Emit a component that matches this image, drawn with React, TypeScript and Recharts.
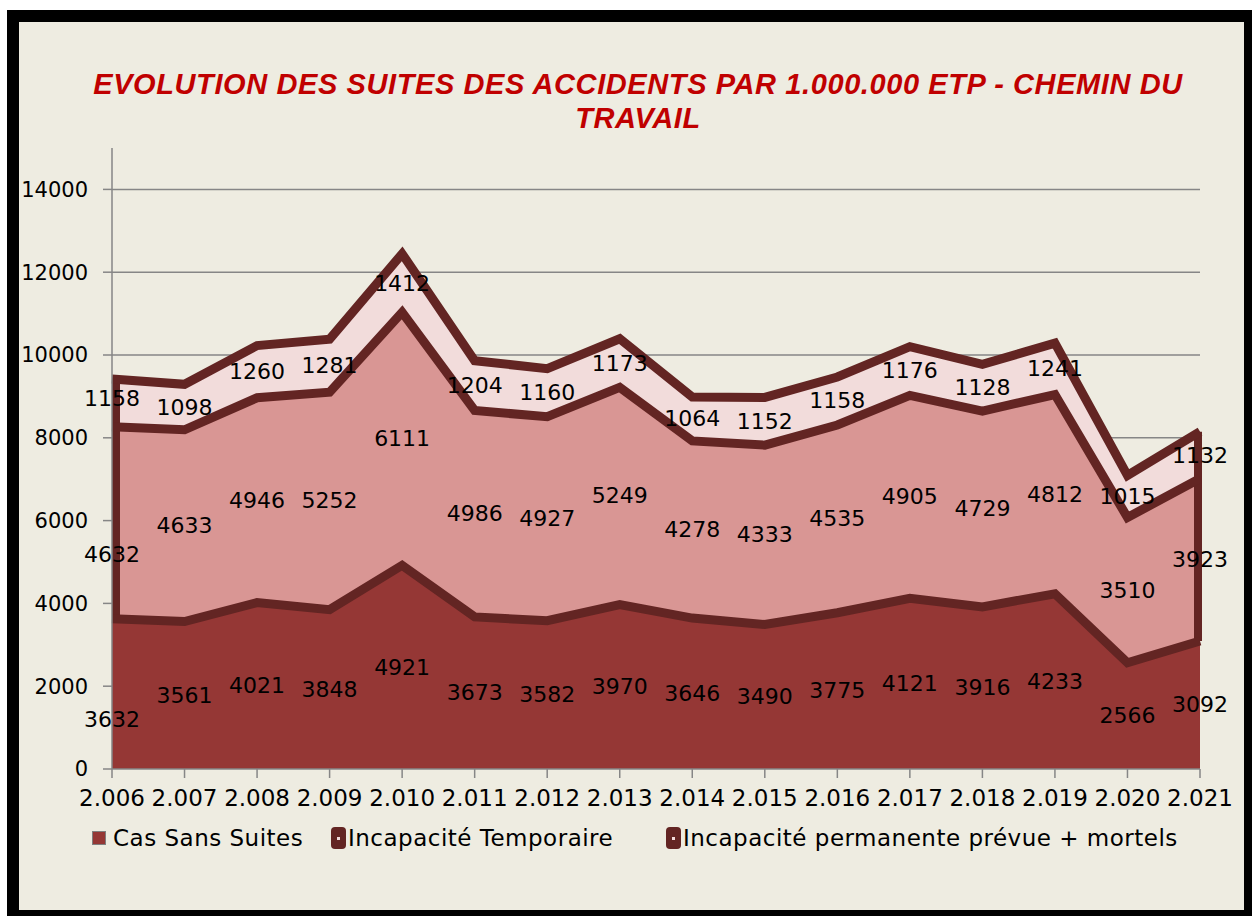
import { ComposedChart, Area, Line, XAxis, YAxis, CartesianGrid, LabelList, ReferenceLine } from 'recharts'

const years = ['2.006', '2.007', '2.008', '2.009', '2.010', '2.011', '2.012', '2.013', '2.014', '2.015', '2.016', '2.017', '2.018', '2.019', '2.020', '2.021']
const casSansSuites = [3632, 3561, 4021, 3848, 4921, 3673, 3582, 3970, 3646, 3490, 3775, 4121, 3916, 4233, 2566, 3092]
const incapTemporaire = [4632, 4633, 4946, 5252, 6111, 4986, 4927, 5249, 4278, 4333, 4535, 4905, 4729, 4812, 3510, 3923]
const incapPermanente = [1158, 1098, 1260, 1281, 1412, 1204, 1160, 1173, 1064, 1152, 1158, 1176, 1128, 1241, 1015, 1132]
const yTicks = [0, 2000, 4000, 6000, 8000, 10000, 12000, 14000]
const yMax = 15000

const data = years.map((year, i) => {
  const cas = casSansSuites[i]
  const temp = incapTemporaire[i]
  const perm = incapPermanente[i]
  return {
    year,
    cas,
    temp,
    perm,
    casTop: cas,
    tempTop: cas + temp,
    permTop: cas + temp + perm,
    casMid: cas / 2,
    tempMid: cas + temp / 2,
    permMid: cas + temp + perm / 2,
  }
})

const first = data[0]
const last = data[data.length - 1]

const EDGE = '#632523'
const GRID = '#868686'
const FONT = '"DejaVu Sans", Verdana, sans-serif'

// grid rows only at the labelled ticks (none at the top of the axis)
const gridRows = (props: any) => {
  const scale = props?.yAxis?.scale
  const rows = yTicks.filter((t) => t > 0)
  if (typeof scale === 'function') return rows.map((t) => scale(t))
  const off = props?.offset || {}
  return rows.map((t) => off.top + off.height * (1 - t / yMax))
}

// side borders of the stacked band, nudged inside the plot like Excel does
const edgeShape = (dx: number) => (p: any) => {
  if (p.x1 == null) return <g />
  return <line x1={p.x1 + dx} x2={p.x2 + dx} y1={p.y1} y2={p.y2} stroke={EDGE} strokeWidth={8} />
}

const midLabel = (shiftFirst: number) => (props: any) => {
  const vb = props.viewBox || {}
  const x = vb.x ?? props.x
  const y = (vb.y ?? props.y) + (props.index === 0 ? shiftFirst : 0)
  return (
    <text x={x} y={y} textAnchor="middle" dominantBaseline="central" fontSize={22} fontFamily={FONT} fill="#000">
      {props.value}
    </text>
  )
}

function LegendItem({ left, label, kind }: { left: number; label: string; kind: 'square' | 'outlined' }) {
  return (
    <div style={{ position: 'absolute', left, top: 823, height: 30, display: 'flex', alignItems: 'center', fontFamily: FONT, fontSize: 23, letterSpacing: 0.5, color: '#000', whiteSpace: 'nowrap' }}>
      {kind === 'square' ? (
        <span style={{ width: 12, height: 12, background: '#953735', border: '1px solid #7f7f7f', marginRight: 7 }} />
      ) : (
        <span style={{ width: 15, height: 22, background: EDGE, borderRadius: 4, marginRight: 2, display: 'flex', alignItems: 'center', justifyContent: 'center' }}>
          <span style={{ width: 3, height: 3, background: '#F2DCDB' }} />
        </span>
      )}
      {label}
    </div>
  )
}

export default function App() {
  return (
    <div style={{ position: 'fixed', left: 0, top: 0, width: 1252, height: 916, overflow: 'hidden', background: '#fff' }}>
      <div style={{ position: 'absolute', left: 7, top: 10, width: 1249, height: 912, background: '#EEECE1', boxSizing: 'border-box' }} />
      <div style={{ position: 'absolute', left: 0, top: 67, width: 1276, textAlign: 'center', color: '#C00000', fontFamily: '"Liberation Sans", Arial, sans-serif', fontWeight: 'bold', fontStyle: 'italic', fontSize: 29, letterSpacing: 0.6, lineHeight: '34px' }}>
        EVOLUTION DES SUITES DES ACCIDENTS PAR 1.000.000 ETP - CHEMIN DU
        <br />
        TRAVAIL
      </div>
      <div style={{ position: 'absolute', left: 0, top: 0 }}>
        <ComposedChart width={1252} height={916} data={data} margin={{ top: 148, right: 52, bottom: 97, left: 12 }}>
          <CartesianGrid vertical={false} stroke={GRID} strokeWidth={1.5} horizontalCoordinatesGenerator={gridRows} />
          <XAxis
            dataKey="year"
            height={50}
            tickSize={9}
            tickMargin={12}
            stroke={GRID}
            strokeWidth={1.5}
            tick={{ fontSize: 23, fill: '#000', fontFamily: FONT }}
            interval={0}
          />
          <YAxis
            width={100}
            domain={[0, yMax]}
            ticks={yTicks}
            tickSize={9}
            tickMargin={15}
            stroke={GRID}
            strokeWidth={1.5}
            tick={{ fontSize: 21, fill: '#000', fontFamily: FONT }}
          />
          <Area type="linear" dataKey="cas" name="Cas Sans Suites" stackId="1" fill="#953735" fillOpacity={1} stroke="none" isAnimationActive={false} />
          <Area type="linear" dataKey="temp" name="Incapacité Temporaire" stackId="1" fill="#D99694" fillOpacity={1} stroke="none" isAnimationActive={false} />
          <Area type="linear" dataKey="perm" name="Incapacité permanente prévue + mortels" stackId="1" fill="#F2DCDB" fillOpacity={1} stroke="none" isAnimationActive={false} />
          <ReferenceLine segment={[{ x: first.year, y: first.casTop }, { x: first.year, y: first.permTop }]} shape={edgeShape(4)} />
          <ReferenceLine segment={[{ x: last.year, y: last.casTop }, { x: last.year, y: last.permTop }]} shape={edgeShape(-2)} />
          <Line type="linear" dataKey="casTop" stroke={EDGE} strokeWidth={9} dot={false} activeDot={false} isAnimationActive={false} />
          <Line type="linear" dataKey="tempTop" stroke={EDGE} strokeWidth={9} dot={false} activeDot={false} isAnimationActive={false} />
          <Line type="linear" dataKey="permTop" stroke={EDGE} strokeWidth={9} dot={false} activeDot={false} isAnimationActive={false} />
          <Line type="linear" dataKey="casMid" stroke="none" dot={false} activeDot={false} isAnimationActive={false}>
            <LabelList dataKey="cas" content={midLabel(26)} />
          </Line>
          <Line type="linear" dataKey="tempMid" stroke="none" dot={false} activeDot={false} isAnimationActive={false}>
            <LabelList dataKey="temp" content={midLabel(32)} />
          </Line>
          <Line type="linear" dataKey="permMid" stroke="none" dot={false} activeDot={false} isAnimationActive={false}>
            <LabelList dataKey="perm" content={midLabel(-4)} />
          </Line>
        </ComposedChart>
      </div>
      <LegendItem left={92} label="Cas Sans Suites" kind="square" />
      <LegendItem left={331} label="Incapacité Temporaire" kind="outlined" />
      <LegendItem left={666} label="Incapacité permanente prévue + mortels" kind="outlined" />
      <div style={{ position: 'absolute', left: 7, top: 10, width: 1249, height: 912, border: '12px solid #000', boxSizing: 'border-box', pointerEvents: 'none' }} />
    </div>
  )
}
